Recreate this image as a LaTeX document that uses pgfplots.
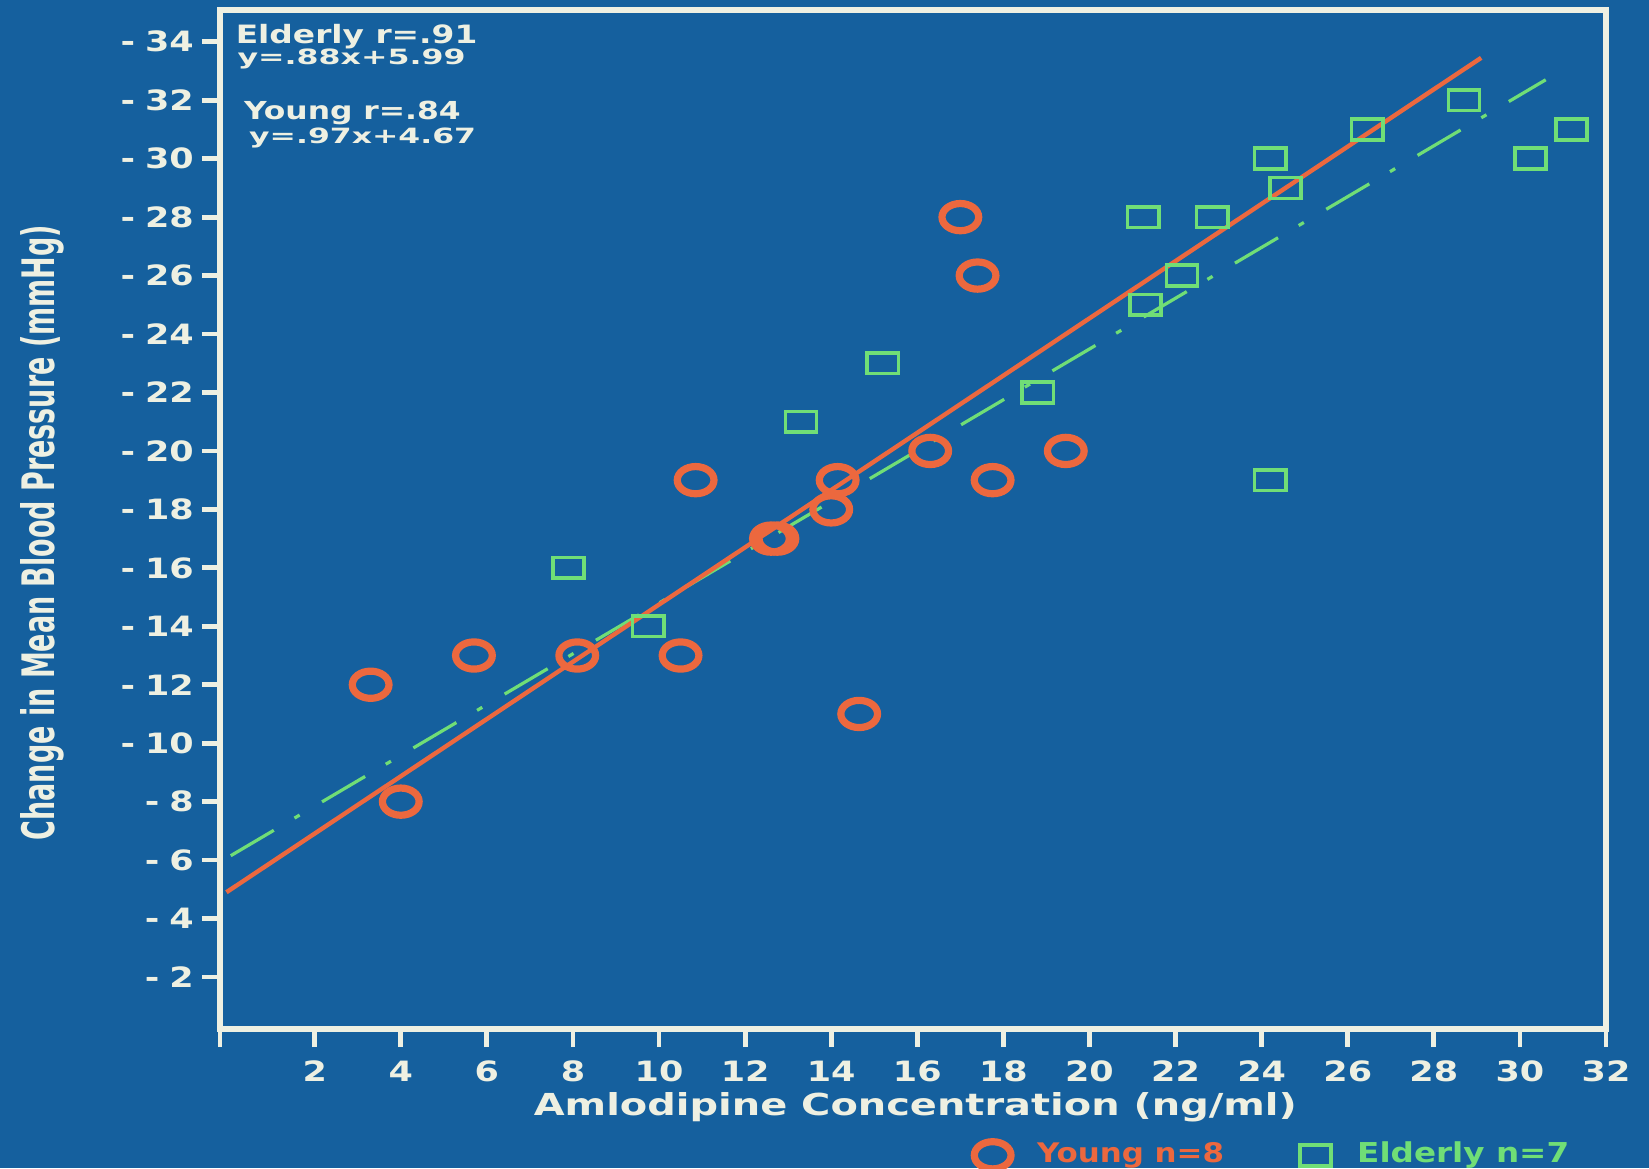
\documentclass[border=0pt]{standalone}
\usepackage{fontspec}
\setmainfont{DejaVu Sans}
\usepackage{graphicx}
\usepackage{pgfplots}
\pgfplotsset{compat=1.18}
\definecolor{bg}{RGB}{21,96,158}
\definecolor{cream}{RGB}{238,240,226}
\definecolor{oran}{RGB}{236,104,62}
\definecolor{grn}{RGB}{112,222,118}
\newcommand\yl[1]{\scalebox{1.25}[1]{-\hspace{2pt}#1}}
\newcommand\xl[1]{\scalebox{1.25}[1]{#1}}
\begin{document}
\begin{tikzpicture}
\useasboundingbox (-55pt,-34.75pt) rectangle (357.25pt,257.25pt);
\fill[bg] (-55pt,-34.75pt) rectangle (357.25pt,257.25pt);
\begin{axis}[
  scale only axis, width=346.5pt, height=254.625pt,
  xmin=-0.2, xmax=32, ymin=-35.07, ymax=-0.22, y dir=reverse,
  axis line style={cream, line width=1.5pt},
  xtick={-0.2,2,4,...,32}, ytick={-34,-32,...,-2},
  xticklabels={{},\xl{2},\xl{4},\xl{6},\xl{8},\xl{10},\xl{12},\xl{14},\xl{16},\xl{18},\xl{20},\xl{22},\xl{24},\xl{26},\xl{28},\xl{30},\xl{32}},
  yticklabels={\yl{34},\yl{32},\yl{30},\yl{28},\yl{26},\yl{24},\yl{22},\yl{20},\yl{18},\yl{16},\yl{14},\yl{12},\yl{10},\yl{8},\yl{6},\yl{4},\yl{2}},
  tick align=outside, xtick pos=left, ytick pos=left,
  major tick length=4.5pt,
  tick style={cream, line width=1.2pt},
  ticklabel style={text=cream, font=\fontsize{7}{8}\selectfont\bfseries},
  yticklabel style={xshift=1.5pt},
  legend image code/.code={\draw[#1] plot coordinates {(0pt,0pt)};},
  legend columns=2,
  legend style={draw=none, fill=none, at={(axis description cs:0.535,-0.124)}, anchor=west,
    nodes={inner sep=0pt},
    /tikz/every odd column/.append style={column sep=6.5pt},
    /tikz/every even column/.append style={column sep=19pt}},
]
\addplot[grn, line width=0.8pt, dash pattern=on 12.5pt off 6pt on 1.5pt off 6.5pt, forget plot]
  coordinates {(0.05,-6.15) (30.6,-32.7)};
\addplot[only marks, mark=o, oran, mark size=3.4pt, mark options={xscale=1.35, line width=1.8pt}]
  coordinates {
  (3.3,-12) (4.0,-8) (5.7,-13) (8.1,-13) (10.5,-13) (10.85,-19)
  (12.6,-17) (12.75,-17) (14.0,-18) (14.15,-19) (14.65,-11)
  (16.3,-20) (17.0,-28) (17.4,-26) (17.75,-19) (19.45,-20)};
\addlegendentry{\resizebox{46.75pt}{5pt}{\bfseries\color{oran}Young n=8}}
\addplot[only marks, mark=square, grn, mark size=2.6pt, mark options={xscale=1.5, line width=0.9pt}]
  coordinates {
  (7.9,-16) (9.75,-14) (13.3,-21) (15.2,-23) (18.8,-22)
  (21.25,-28) (21.3,-25) (22.15,-26) (22.85,-28) (24.2,-30)
  (24.55,-29) (24.2,-19) (26.45,-31) (28.7,-32) (30.25,-30) (31.2,-31)};
\addlegendentry{\resizebox{53pt}{5.2pt}{\bfseries\color{grn}Elderly n=7}}
\addplot[oran, line width=1.1pt, forget plot] coordinates {(-0.05,-4.9) (29.1,-33.45)};
\end{axis}
\node[anchor=base west, inner sep=0pt, text=cream] at (3.75pt,246.4pt) {\resizebox{60.4pt}{4.8pt}{\bfseries Elderly r=.91}};
\node[anchor=base west, inner sep=0pt, text=cream] at (4.2pt,241pt) {\resizebox{57pt}{3.9pt}{\bfseries y=.88x+5.99}};
\node[anchor=base west, inner sep=0pt, text=cream] at (5.8pt,227.25pt) {\resizebox{54.2pt}{4.6pt}{\bfseries Young r=.84}};
\node[anchor=base west, inner sep=0pt, text=cream] at (7.1pt,221.4pt) {\resizebox{56.7pt}{3.9pt}{\bfseries y=.97x+4.67}};
\node[anchor=base west, inner sep=0pt, text=cream] at (78.25pt,-21.5pt) {\resizebox{190.75pt}{5.75pt}{\bfseries Amlodipine Concentration (ng/ml)}};
\node[anchor=base west, inner sep=0pt, text=cream, rotate=90] at (-41.25pt,47pt) {\resizebox{153.75pt}{8.5pt}{\bfseries Change in Mean Blood Pressure (mmHg)}};
\end{tikzpicture}
\end{document}
